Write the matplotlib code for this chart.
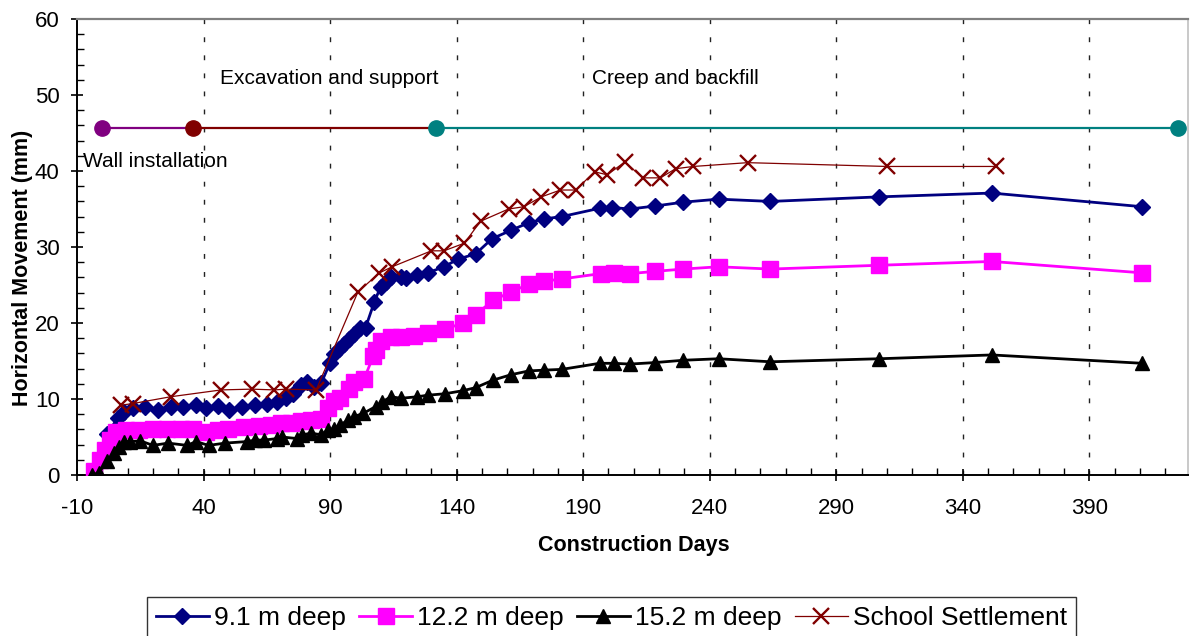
import numpy as np
import matplotlib
matplotlib.use("Agg")
import matplotlib.pyplot as plt
from matplotlib.ticker import MultipleLocator

plt.rcParams['font.family'] = ['Liberation Sans', 'DejaVu Sans']
plt.rcParams['axes.unicode_minus'] = False

# 9.1 m deep inclinometer
days_91 = [-3, -1, 2, 6, 8.5, 12, 17, 22, 27, 32, 37, 41, 45.5, 50, 55, 60.5, 65, 69,
           72.5, 75.5, 78.5, 81, 83.5, 86.5, 90, 91.5, 93.5, 95.5, 97.5, 99.5, 102, 104,
           107.5, 110, 112, 114, 118, 120, 124.5, 128.5, 135, 140.5, 147.5, 154, 161.5,
           168.5, 174.5, 181.5, 196.5, 201.5, 208.5, 218.5, 229.5, 243.5, 264, 307,
           351.5, 411]
mov_91 = [0, 2.0, 5.4, 7.5, 8.3, 8.8, 9.0, 8.6, 9.0, 9.0, 9.2, 8.8, 9.1, 8.6, 9.0, 9.2,
          9.4, 9.6, 10.1, 10.7, 11.8, 12.3, 11.6, 12.1, 14.8, 15.9, 16.6, 17.2, 17.9,
          18.6, 19.3, 19.4, 22.8, 24.8, 25.4, 26.1, 26.1, 25.9, 26.3, 26.6, 27.4, 28.4,
          29.1, 31.1, 32.2, 33.2, 33.7, 34.0, 35.1, 35.2, 35.0, 35.4, 35.9, 36.3, 36.0,
          36.6, 37.1, 35.3]

# 12.2 m deep
days_122 = [-3.5, -1, 1, 3, 5.5, 9.5, 14.5, 20, 25.5, 31, 36, 41, 45.5, 49.5, 56, 62,
            66.5, 70.5, 74.5, 78.5, 82.5, 86.5, 89, 91.5, 94, 97.5, 99.5, 103.5, 107,
            108, 110, 114, 118, 123, 128.5, 135.5, 142.5, 147.5, 154.5, 161.5, 168.5,
            174.5, 181.5, 197, 202, 208.5, 218.5, 229.5, 243.5, 264, 307, 351.5, 411]
mov_122 = [0.5, 2.0, 3.3, 4.6, 5.7, 5.9, 5.9, 6.1, 6.1, 6.1, 6.0, 5.6, 5.9, 6.1, 6.3,
           6.4, 6.6, 6.8, 6.9, 7.1, 7.3, 7.4, 8.8, 9.7, 10.2, 11.3, 12.3, 12.7, 15.6,
           16.4, 17.6, 18.2, 18.1, 18.3, 18.7, 19.2, 20.0, 21.1, 23.0, 24.1, 25.1, 25.5,
           25.8, 26.5, 26.6, 26.5, 26.8, 27.1, 27.4, 27.1, 27.6, 28.1, 26.6]

# 15.2 m deep
days_152 = [-4, -1.5, 2, 4.5, 6.5, 8.5, 11, 15, 20, 26, 33.5, 37, 42, 48.5, 57, 60.5,
            64, 69, 71, 77, 79, 82.5, 86.5, 89, 91.5, 94, 97, 99.5, 103, 108, 110.5,
            114, 118, 124.5, 128.5, 135.5, 142.5, 147.5, 154.5, 161.5, 168.5, 174.5,
            181.5, 196.5, 202, 208.5, 218.5, 229.5, 243.5, 264, 307, 351.5, 411]
mov_152 = [0, 0.3, 1.8, 2.9, 3.7, 4.4, 4.4, 4.5, 3.9, 4.2, 3.9, 4.4, 3.9, 4.2, 4.4, 4.6,
           4.6, 4.8, 5.0, 4.8, 5.3, 5.5, 5.3, 5.9, 6.1, 6.6, 7.2, 7.7, 8.1, 9.0, 9.6,
           10.3, 10.1, 10.3, 10.5, 10.7, 11.1, 11.5, 12.5, 13.2, 13.7, 13.8, 13.9, 14.7,
           14.7, 14.6, 14.8, 15.1, 15.3, 14.9, 15.3, 15.8, 14.7]

# school settlement
days_school = [7.5, 12, 27, 47, 59, 68, 72.5, 84.5, 101, 109.5, 114.5, 130, 135, 143,
               149.5, 160.5, 166.5, 173.5, 181, 187, 194.5, 199.5, 206.5, 213.5, 220.5,
               226.5, 233.5, 255, 310, 353]
mov_school = [9.2, 9.4, 10.3, 11.2, 11.3, 11.2, 11.3, 11.2, 24.1, 26.6, 27.4, 29.5, 29.5,
              30.5, 33.4, 35.0, 35.3, 36.6, 37.5, 37.5, 39.9, 39.5, 41.2, 39.1, 39.1,
              40.3, 40.6, 41.1, 40.6, 40.6]

# construction phases
phase_days = [0, 36, 132, 425]
phase_level = 45.7
phase_colors = ['#800080', '#800000', '#008080']
phase_labels = ['Wall installation', 'Excavation and support', 'Creep and backfill']
label_pos = [(-7.5, 41.2), (46.5, 52.2), (193.5, 52.2)]

fig = plt.figure(figsize=(11.91, 6.36), dpi=100)
ax = fig.add_axes([0.0647, 0.2531, 0.9328, 0.717])

# vertical dashed grid
for gx in range(40, 430, 50):
    ax.axvline(gx, color='#222222', lw=1.0, ls=(0, (3.5, 9.5)), zorder=0)

# phase line
for i in range(3):
    ax.plot(phase_days[i:i + 2], [phase_level] * 2, color=phase_colors[i], lw=1.6, zorder=2)
    ax.plot(phase_days[i], phase_level, 'o', color=phase_colors[i], ms=11, zorder=3)
ax.plot(phase_days[3], phase_level, 'o', color=phase_colors[2], ms=11, zorder=3)
for lab, (lx, ly) in zip(phase_labels, label_pos):
    ax.text(lx, ly, lab, fontsize=15, va='center', ha='left')

ax.plot(days_91, mov_91, '-D', color='#000080', lw=2.0, ms=8.5, label='9.1 m deep', zorder=4)
ax.plot(days_122, mov_122, '-s', color='#FF00FF', lw=2.0, ms=11, label='12.2 m deep', zorder=4)
ax.plot(days_152, mov_152, '-^', color='black', lw=2.0, ms=10.5, label='15.2 m deep', zorder=4)
ax.plot(days_school, mov_school, '-x', color='#800000', lw=0.9, ms=12, mew=1.7,
        label='School Settlement', zorder=5)

ax.set_xlim(-10, 429)
ax.set_ylim(0, 60)
ax.xaxis.set_minor_locator(MultipleLocator(10))
ax.yaxis.set_major_locator(MultipleLocator(10))
ax.yaxis.set_minor_locator(MultipleLocator(2))
ax.set_xticks(np.arange(-10, 400, 50))
ax.tick_params(which='major', direction='inout', length=9, width=1.2, labelsize=16)
ax.tick_params(which='minor', direction='in', length=5, width=1.0)
ax.tick_params(axis='x', which='major', pad=12)
ax.tick_params(axis='y', which='major', pad=8)

ax.spines['left'].set_linewidth(1.4)
ax.spines['bottom'].set_linewidth(1.4)
ax.spines['top'].set_color('#808080')
ax.spines['top'].set_linewidth(1.6)
ax.spines['right'].set_color('#c0c0c0')
ax.spines['right'].set_linewidth(1.2)

ax.set_xlabel('Construction Days', fontsize=15.5, fontweight='bold', va='center')
ax.xaxis.set_label_coords(0.5014, -0.1535)
ax.set_ylabel('Horizontal Movement (mm)', fontsize=15.5, fontweight='bold', va='center')
ax.yaxis.set_label_coords(-0.0495, 0.455)

leg = fig.legend(loc='upper center', bbox_to_anchor=(0.5134, 0.0613), ncol=4,
                 fontsize=19, frameon=True, fancybox=False, edgecolor='black',
                 handlelength=2.0, handletextpad=0.2, columnspacing=0.5,
                 borderpad=0.35, borderaxespad=0)
leg.get_frame().set_linewidth(1.0)

fig.savefig('out.png', dpi=100)
